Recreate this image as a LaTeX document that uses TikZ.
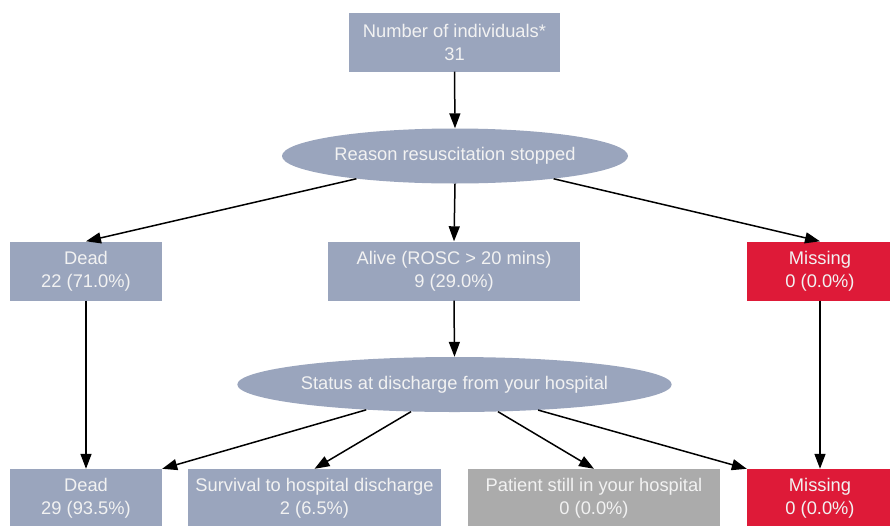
\documentclass[tikz,border=0pt]{standalone}
\usepackage{fontspec}
\setmainfont{Liberation Sans}
\usetikzlibrary{arrows.meta,shapes.geometric}
\definecolor{boxblue}{HTML}{9AA5BD}
\definecolor{boxred}{HTML}{DE1A38}
\definecolor{boxgray}{HTML}{ABABAB}
\definecolor{txt}{HTML}{F2F2F2}
\tikzset{
  box/.style={rectangle, fill=boxblue, text=txt, align=center, inner sep=0pt,
    minimum height=59pt, font=\fontsize{18.3}{23}\selectfont},
  redbox/.style={box, fill=boxred},
  graybox/.style={box, fill=boxgray},
  oval/.style={ellipse, fill=boxblue, text=txt, inner sep=0pt,
    font=\fontsize{18.3}{23}\selectfont},
  conn/.style={draw=black, line width=1.5pt, -{Triangle[length=15pt,width=11pt]}}
}
\begin{document}
\begin{tikzpicture}[x=1pt,y=-1pt]
\useasboundingbox (0,0) rectangle (890,525);
\fill[white] (0,0) rectangle (890,525);
\node[box, minimum width=211pt] (top) at (454.5,42) {Number of individuals*\\31};
\node[oval, minimum width=346pt, minimum height=55pt] (e1) at (455,156) {Reason resuscitation stopped};
\node[box, minimum width=152pt] (dead1) at (86,271) {Dead\\22 (71.0\%)};
\node[box, minimum width=252pt] (alive) at (454,271) {Alive (ROSC > 20 mins)\\9 (29.0\%)};
\node[redbox, minimum width=146pt] (miss1) at (820,271) {Missing\\0 (0.0\%)};
\node[oval, minimum width=425pt, minimum height=55pt] (e2) at (454.5,384.5) {Status at discharge from your hospital};
\node[box, minimum width=152pt] (dead2) at (86,498.5) {Dead\\29 (93.5\%)};
\node[box, minimum width=253pt] (surv) at (314.5,498.5) {Survival to hospital discharge\\2 (6.5\%)};
\node[graybox, minimum width=252pt] (still) at (594,498.5) {Patient still in your hospital\\0 (0.0\%)};
\node[redbox, minimum width=146pt] (miss2) at (820,498.5) {Missing\\0 (0.0\%)};

\draw[conn] (top.south) -- (e1.north);
\draw[conn] (e1.193) -- (dead1.north);
\draw[conn] (e1.south) -- (alive.north);
\draw[conn] (e1.347) -- (miss1.north);
\draw[conn] (dead1.south) -- (dead2.north);
\draw[conn] (alive.south) -- (e2.north);
\draw[conn] (miss1.south) -- (miss2.north);
\draw[conn] (e2.196) -- (dead2.north east);
\draw[conn] (e2.212) -- (surv.north);
\draw[conn] (e2.328) -- (still.north);
\draw[conn] (e2.343) -- (miss2.north west);
\end{tikzpicture}
\end{document}
